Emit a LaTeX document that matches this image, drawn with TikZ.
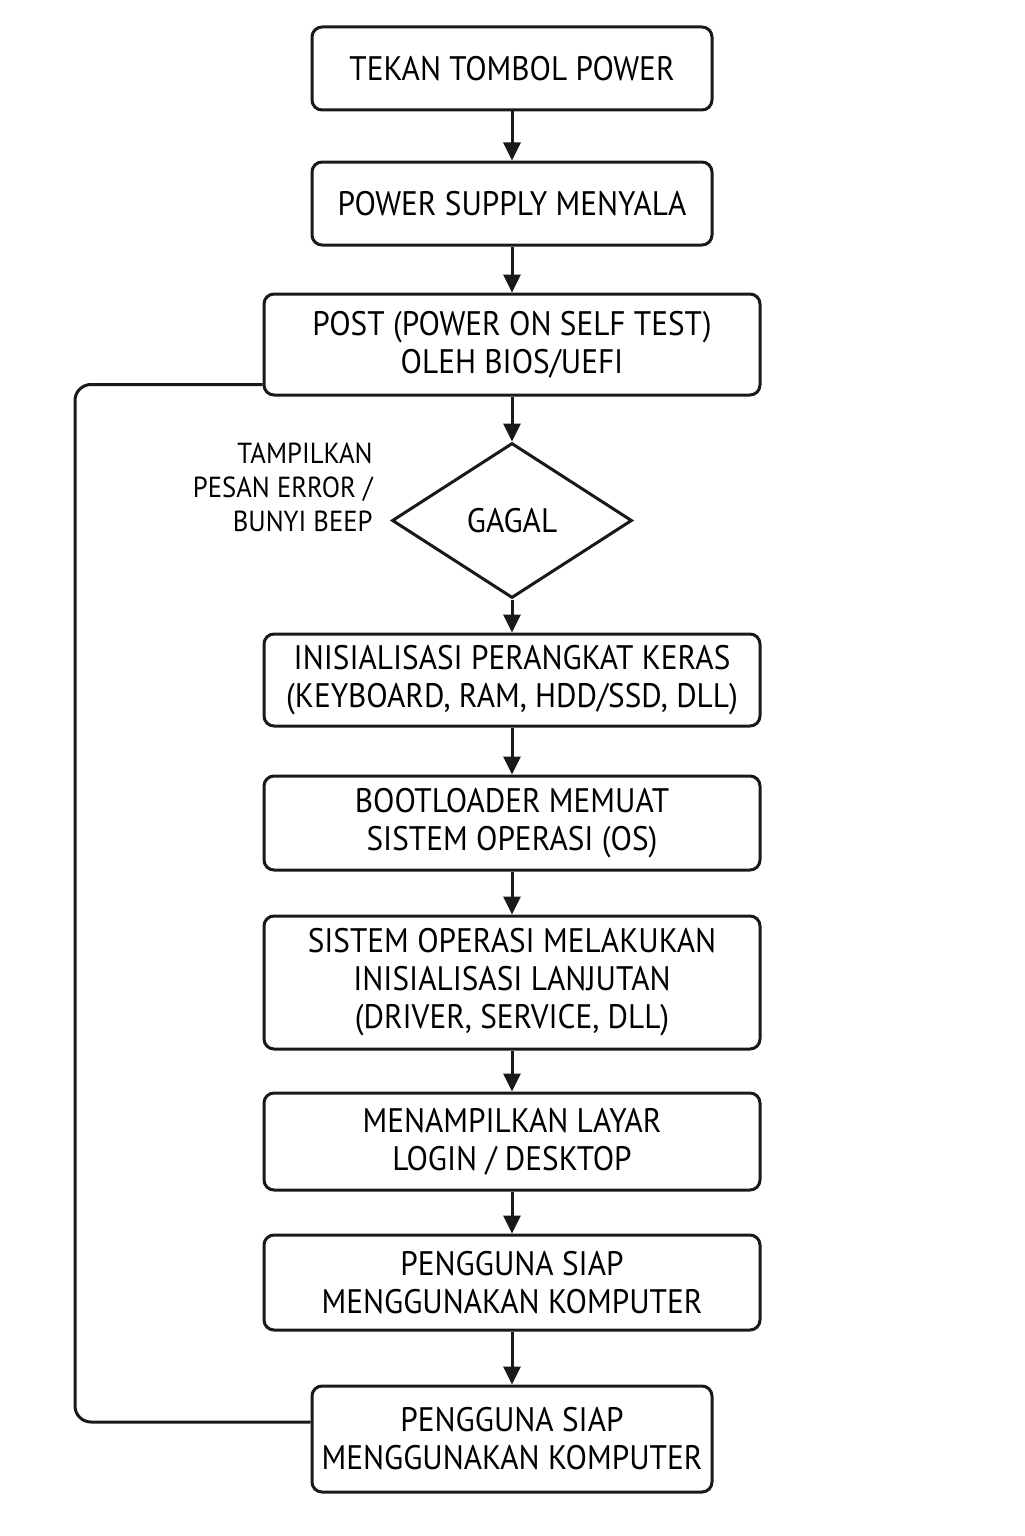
\documentclass[tikz,border=0pt]{standalone}
\usepackage{fontspec}
\setmainfont{PT Sans}[FakeStretch=0.92]
\usetikzlibrary{shapes.geometric, arrows.meta, positioning}

\begin{document}
\begin{tikzpicture}[x=0.5pt, y=-0.5pt]
        \tikzstyle{stepbox} = [rectangle, rounded corners=5pt, draw=black!90, line width=1.5pt, align=center, font=\fontsize{17}{19}\selectfont, inner sep=0pt]
        \tikzstyle{check} = [diamond, draw=black!90, line width=1.5pt, minimum width=120pt, minimum height=77.5pt, inner sep=0pt, font=\fontsize{17}{19}\selectfont]
        \tikzstyle{connect} = [-{Triangle[length=9pt, width=8.5pt]}, line width=1.5pt, black!90]
        \tikzstyle{loopline} = [line width=1.5pt, black!90, rounded corners=8pt]
        \useasboundingbox (0,0) rectangle (1024,1536);
        \node[stepbox, minimum width=200pt, minimum height=41.5pt] (power) at (512,68.5) {TEKAN TOMBOL POWER};
        \node[stepbox, minimum width=200pt, minimum height=41.5pt] (psu) at (512,203.5) {POWER SUPPLY MENYALA};
        \node[stepbox, minimum width=248pt, minimum height=50.5pt] (post) at (512,344.5) {POST (POWER ON SELF TEST)\\OLEH BIOS/UEFI};
        \node[check] (gagal) at (512,520.5) {GAGAL};
        \node[anchor=east, align=right, inner sep=0pt, font=\fontsize{14.5}{17}\selectfont] (pesan) at (373,487) {TAMPILKAN\\PESAN ERROR /\\BUNYI BEEP};
        \node[stepbox, minimum width=248pt, minimum height=46pt] (init) at (512,680) {INISIALISASI PERANGKAT KERAS\\(KEYBOARD, RAM, HDD/SSD, DLL)};
        \node[stepbox, minimum width=248pt, minimum height=47pt] (boot) at (512,823) {BOOTLOADER MEMUAT\\SISTEM OPERASI (OS)};
        \node[stepbox, minimum width=248pt, minimum height=66.5pt] (os) at (512,982.5) {SISTEM OPERASI MELAKUKAN\\INISIALISASI LANJUTAN\\(DRIVER, SERVICE, DLL)};
        \node[stepbox, minimum width=248pt, minimum height=48.5pt] (login) at (512,1141.5) {MENAMPILKAN LAYAR\\LOGIN / DESKTOP};
        \node[stepbox, minimum width=248pt, minimum height=47.5pt] (ready) at (512,1282.5) {PENGGUNA SIAP\\MENGGUNAKAN KOMPUTER};
        \node[stepbox, minimum width=200pt, minimum height=53pt] (readyb) at (512,1439) {PENGGUNA SIAP\\MENGGUNAKAN KOMPUTER};
        \coordinate (loop) at (75,1422);
        \path (power) edge [connect] (psu) (psu) edge [connect] (post) (post) edge [connect] (gagal) (gagal) edge [connect] (init) (init) edge [connect] (boot) (boot) edge [connect] (os) (os) edge [connect] (login) (login) edge [connect] (ready) (ready) edge [connect] (readyb);
        \draw[loopline] ([yshift=6pt]post.south west) -| (loop) -- ([yshift=8.5pt]readyb.west);
      \end{tikzpicture}
\end{document}
